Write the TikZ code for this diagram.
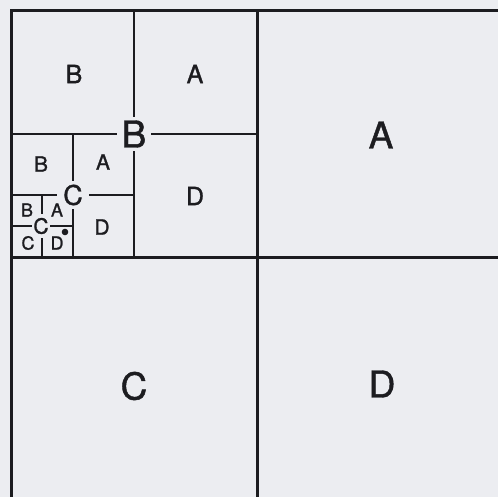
\documentclass[tikz,border=0pt]{standalone}
\usepackage{fontspec}
\setmainfont[FakeBold=1.2]{TeX Gyre Heros}
\definecolor{bg}{RGB}{236,237,241}
\definecolor{ink}{RGB}{28,28,32}
\begin{document}
\begin{tikzpicture}[x=1pt,y=-1pt,
  frame/.style={draw=ink,line width=3pt},
  grid/.style={draw=ink,line width=2.3pt},
  lab/.style={text=ink,inner sep=0pt},
  hub/.style={text=ink,fill=bg,inner sep=0pt},
  big/.style={font=\fontsize{37}{37}\selectfont},
  mid/.style={font=\fontsize{25}{25}\selectfont},
  sml/.style={font=\fontsize{21}{21}\selectfont},
  tiny/.style={font=\fontsize{18}{18}\selectfont}]
\fill[bg] (0,0) rectangle (498,497);
\useasboundingbox (0,0) rectangle (498,497);
\clip (0,0) rectangle (498,497);
% level 1
\draw[frame] (11,503) -- (11,11) -- (503,11);
\draw[frame] (257,11) -- (257,503);
\draw[frame] (11,257) -- (503,257);
% level 2
\draw[grid] (134,11) -- (134,257);
\draw[grid] (11,134) -- (257,134);
% level 3
\draw[grid] (73,134) -- (73,257);
\draw[grid] (11,195) -- (134,195);
% level 4
\draw[grid] (42,195) -- (42,257);
\draw[grid] (11,226) -- (73,226);
% level 1 labels
\node[lab,big] (a1) at (381,135) {A};
\node[lab,big] (c1) at (134,386) {C};
\node[lab,big] (d1) at (382,384) {D};
\node[hub,big,inner xsep=5pt,inner ysep=4pt] (b1) at (134,134) {B};
% level 2 labels
\node[lab,mid] (b2) at (74,74) {B};
\node[lab,mid] (a2) at (195,74) {A};
\node[lab,mid] (d2) at (195,196) {D};
\node[hub,font=\fontsize{27}{27}\selectfont,inner xsep=6pt,inner ysep=4pt] (c2) at (73,195) {C};
% level 3 labels
\node[lab,sml] (b3) at (41,164) {B};
\node[lab,sml] (a3) at (103,162) {A};
\node[lab,sml] (d3) at (102,227) {D};
\node[hub,font=\fontsize{21}{21}\selectfont,inner xsep=1.5pt,inner ysep=4pt] (c3) at (41,226) {C};
% level 4 labels
\node[lab,tiny] (b4) at (27,210) {B};
\node[lab,tiny] (a4) at (57,210) {A};
\node[lab,tiny] (c4) at (28,243) {C};
\node[lab,tiny] (d4) at (57,243) {D};
\fill[ink] (65,232) circle (3.3pt);
\end{tikzpicture}
\end{document}
